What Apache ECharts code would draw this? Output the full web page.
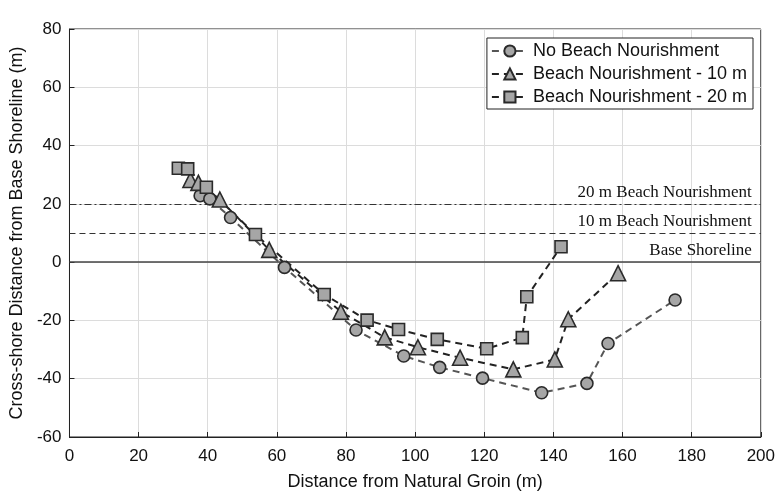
<!DOCTYPE html>
<html>
<head>
<meta charset="utf-8">
<script src="https://cdn.jsdelivr.net/npm/echarts@6/dist/echarts.min.js"></script>
<style>html,body{margin:0;padding:0;background:#fff}#c{width:778px;height:497px}</style>
</head>
<body>
<div id="c"></div>
<script>
const seriesNames = ['No Beach Nourishment', 'Beach Nourishment - 10 m', 'Beach Nourishment - 20 m'];
const noNourish = [[37.8,22.8],[40.6,21.7],[46.6,15.3],[62.2,-1.8],[82.9,-23.3],[96.7,-32.2],[107.1,-36.1],[119.5,-39.8],[136.6,-44.8],[149.7,-41.6],[155.8,-27.9],[175.2,-13.0]];
const nourish10 = [[35.0,28.2],[37.3,27.2],[43.5,21.5],[57.8,4.2],[78.5,-17.0],[91.2,-25.8],[100.8,-29.2],[113.0,-32.8],[128.4,-36.8],[140.4,-33.4],[144.3,-19.6],[158.7,-3.8]];
const nourish20 = [[31.5,32.2],[34.2,32.0],[39.6,25.7],[53.8,9.5],[73.7,-11.1],[86.1,-19.9],[95.2,-23.1],[106.4,-26.5],[120.7,-29.7],[131.0,-25.9],[132.3,-11.9],[142.2,5.3]];
const refValues = [20, 10, 0];
const refLabels = ['20 m Beach Nourishment', '10 m Beach Nourishment', 'Base Shoreline'];
const xTicks = {min: 0, max: 200, interval: 20};
const yTicks = {min: -60, max: 80, interval: 20};

const sans = 'Liberation Sans';
const refStyles = [
  {type: [7, 3, 2, 3], color: '#333', width: 1.2},
  {type: [6, 4], color: '#333', width: 1.2},
  {type: 'solid', color: '#444', width: 1.6}
];

function mk(name, data, symbol, size, lineColor) {
  return {
    name: name, type: 'line', data: data, symbol: symbol, symbolSize: size,
    lineStyle: {type: [7, 5], width: 2, color: lineColor},
    itemStyle: {color: '#a6a6a6', borderColor: '#2a2a2a', borderWidth: 1.6},
    z: 5
  };
}

const series = [
  mk(seriesNames[0], noNourish, 'circle', 12, '#555'),
  mk(seriesNames[1], nourish10, 'triangle', 15, '#222'),
  mk(seriesNames[2], nourish20, 'rect', 12, '#222')
];
series[0].markLine = {
  silent: true, symbol: 'none', z: 1,
  data: refValues.map((v, i) => ({
    yAxis: v, lineStyle: refStyles[i],
    label: {show: true, formatter: refLabels[i], position: 'insideEndTop', distance: [9, 3],
      fontFamily: 'Liberation Serif', fontSize: 17, color: '#111'}
  }))
};

const chart = echarts.init(document.getElementById('c'));
chart.setOption({
  animation: false,
  grid: {left: 67, right: 15, top: 29, bottom: 60, show: true, borderColor: '#222', borderWidth: 1, backgroundColor: 'transparent'},
  legend: {
    data: seriesNames, right: 25, top: 38, orient: 'vertical',
    backgroundColor: '#fff', borderColor: '#222', borderWidth: 1,
    padding: [4, 6, 3, 4], itemGap: 5, itemWidth: 36, itemHeight: 14,
    textStyle: {fontFamily: sans, fontSize: 18, color: '#111'}
  },
  xAxis: {
    type: 'value', min: xTicks.min, max: xTicks.max, interval: xTicks.interval,
    name: 'Distance from Natural Groin (m)', nameLocation: 'middle', nameGap: 36,
    nameTextStyle: {fontFamily: sans, fontSize: 18, color: '#111'},
    axisLine: {show: true, onZero: false, lineStyle: {color: '#222'}},
    axisTick: {show: true, inside: true, length: 5, lineStyle: {color: '#222'}},
    axisLabel: {fontFamily: sans, fontSize: 17, color: '#111', margin: 11},
    splitLine: {show: true, lineStyle: {color: '#dcdcdc', width: 1}}
  },
  yAxis: {
    type: 'value', min: yTicks.min, max: yTicks.max, interval: yTicks.interval,
    name: 'Cross-shore Distance from Base Shoreline (m)', nameLocation: 'middle', nameGap: 38,
    nameTextStyle: {fontFamily: sans, fontSize: 18, color: '#111'},
    axisLine: {show: true, onZero: false, lineStyle: {color: '#222'}},
    axisTick: {show: true, inside: true, length: 5, lineStyle: {color: '#222'}},
    axisLabel: {fontFamily: sans, fontSize: 17, color: '#111', margin: 8},
    splitLine: {show: true, lineStyle: {color: '#dcdcdc', width: 1}}
  },
  series: series
});
</script>
</body>
</html>
